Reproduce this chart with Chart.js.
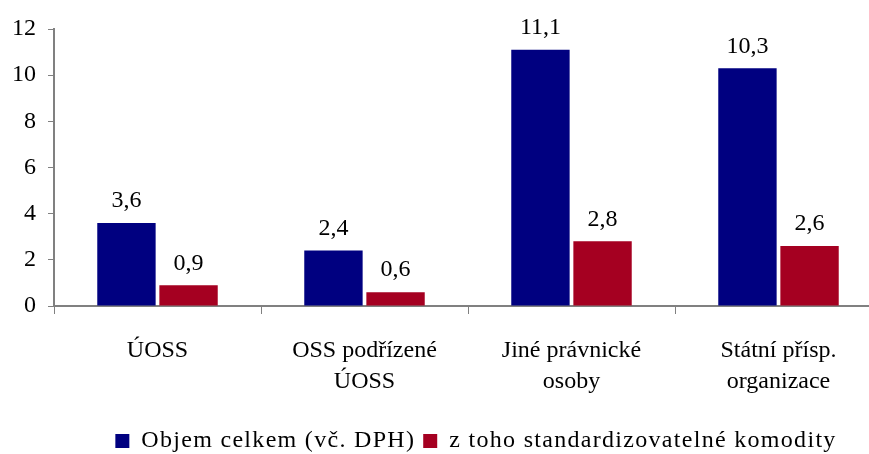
<!DOCTYPE html>
<html>
<head>
<meta charset="utf-8">
<script src="https://cdn.jsdelivr.net/npm/chart.js@4/dist/chart.umd.min.js"></script>
<style>
  html, body { margin: 0; padding: 0; background: #fff; overflow: hidden; }
  #wrap { width: 900px; height: 454px; }
</style>
</head>
<body>
<div id="wrap"><canvas id="canvas" width="900" height="454"></canvas></div>
<script>
// categories and values
let categories = ['ÚOSS', ['OSS podřízené', 'ÚOSS'], ['Jiné právnické', 'osoby'], ['Státní přísp.', 'organizace']];
let totalLabel = 'Objem celkem (vč. DPH)';
let standardLabel = 'z toho standardizovatelné komodity';
let totalValues = [3.6, 2.4, 11.1, 10.3];
let standardValues = [0.9, 0.6, 2.8, 2.6];
let yTicks = [0, 2, 4, 6, 8, 10, 12];

const fontFamily = '"Liberation Serif", "Times New Roman", serif';
const axisGray = '#808080';

// the legend text in the picture is spread out a little
const LegendEl = Chart.Legend._element.prototype;
['fit', 'draw'].forEach(name => {
  const orig = LegendEl[name];
  LegendEl[name] = function () {
    const c = this.ctx;
    const prev = c.letterSpacing;
    c.letterSpacing = '1.3px';
    const r = orig.apply(this, arguments);
    c.letterSpacing = prev || '0px';
    return r;
  };
});

// legend sits a bit right of the canvas centre in the picture
const legendShift = {
  id: 'legendShift',
  afterLayout(chart) {
    if (chart.legend) {
      chart.legend.left += 35;
      chart.legend.right += 35;
    }
  }
};

// draws the value above every bar, decimal comma
const valueLabels = {
  id: 'valueLabels',
  afterDatasetsDraw(chart) {
    let ctx = chart.ctx;
    ctx.save();
    ctx.font = '24px ' + fontFamily;
    ctx.fillStyle = '#000';
    ctx.textAlign = 'center';
    ctx.textBaseline = 'middle';
    chart.data.datasets.forEach((ds, i) => {
      chart.getDatasetMeta(i).data.forEach((bar, j) => {
        let txt = ds.data[j].toFixed(1).replace('.', ',');
        ctx.fillText(txt, bar.x, bar.y - 22);
      });
    });
    ctx.restore();
  }
};

let ctx = document.getElementById('canvas').getContext('2d');
let chart = new Chart(ctx, {
  type: 'bar',
  data: {
    labels: categories,
    datasets: [
      { label: totalLabel, data: totalValues, backgroundColor: '#000080', categoryPercentage: 0.6, barPercentage: 0.94 },
      { label: standardLabel, data: standardValues, backgroundColor: '#A50021', categoryPercentage: 0.6, barPercentage: 0.94 }
    ]
  },
  options: {
    responsive: false,
    animation: false,
    devicePixelRatio: 1,
    layout: { padding: { top: 29, right: 18, left: 0, bottom: -9 } },
    plugins: {
      tooltip: { enabled: false },
      legend: {
        position: 'bottom',
        labels: {
          boxWidth: 14, boxHeight: 14, padding: 8,
          color: '#000',
          font: { family: fontFamily, size: 24 }
        }
      }
    },
    scales: {
      x: {
        offset: true,
        grid: { display: true, drawOnChartArea: false, offset: true, tickLength: 8, color: axisGray },
        border: { color: axisGray, width: 2 },
        ticks: { color: '#000', padding: 21, maxRotation: 0, font: { family: fontFamily, size: 24, lineHeight: 1.3 } },
        afterFit(scale) { scale.height = 115; }
      },
      y: {
        min: 0, max: 12,
        afterBuildTicks(scale) { scale.ticks = yTicks.map(v => ({ value: v })); },
        grid: { display: true, drawOnChartArea: false, tickLength: 6, color: axisGray },
        border: { color: axisGray, width: 2 },
        ticks: { color: '#000', padding: 12, font: { family: fontFamily, size: 24 } },
        afterFit(scale) { scale.width = 54; }
      }
    }
  },
  plugins: [valueLabels, legendShift]
});
</script>
</body>
</html>
